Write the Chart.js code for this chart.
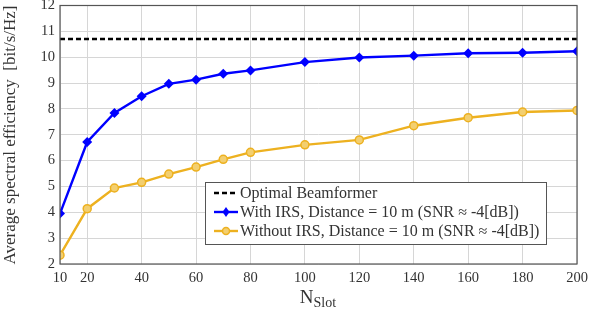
<!DOCTYPE html>
<html><head><meta charset="utf-8">
<script src="https://cdn.jsdelivr.net/npm/chart.js@4"></script>
<style>html,body{margin:0;padding:0;background:#fff}</style>
</head><body>
<canvas id="c" width="590" height="310"></canvas>
<script>
const nSlot = [10,20,30,40,50,60,70,80,100,120,140,160,180,200];
const withIRS = [3.95,6.72,7.84,8.49,8.97,9.13,9.36,9.49,9.81,9.99,10.06,10.15,10.17,10.23];
const withoutIRS = [2.34,4.14,4.94,5.16,5.48,5.75,6.05,6.32,6.61,6.8,7.35,7.66,7.88,7.94];
const optimal = 10.7;
const xTicks = [10,20,40,60,80,100,120,140,160,180,200];
const yTicks = [2,3,4,5,6,7,8,9,10,11,12];
const legendLabels = ["Optimal Beamformer","With IRS, Distance = 10 m (SNR \u2248 -4[dB])","Without IRS, Distance = 10 m (SNR \u2248 -4[dB])"];
const FONT = "'Liberation Serif', 'DejaVu Serif', serif";
const BLUE = "#0000FF", ORANGE = "#EDB120";

const custom = {
  id:'custom',
  afterDraw(chart){
    const ctx = chart.ctx, a = chart.chartArea;
    ctx.save();
    // border
    ctx.strokeStyle = "#555"; ctx.lineWidth = 1.2;
    ctx.strokeRect(a.left, a.top, a.right-a.left, a.bottom-a.top);
    // y title
    ctx.fillStyle = "#333";
    ctx.font = "17px " + FONT;
    ctx.translate(11, 135);
    ctx.rotate(-Math.PI/2);
    ctx.textAlign = "center"; ctx.textBaseline = "middle";
    ctx.fillText("Average spectral efficiency  [bit/s/Hz]", 0, 0);
    ctx.restore();
    ctx.save();
    // x title N_Slot
    ctx.fillStyle = "#333";
    ctx.textBaseline = "alphabetic"; ctx.textAlign = "left";
    ctx.font = "19px " + FONT;
    const nW = ctx.measureText("N").width;
    ctx.font = "14px " + FONT;
    const sW = ctx.measureText("Slot").width;
    const cx = 318 - (nW+sW)/2;
    ctx.font = "19px " + FONT;
    ctx.fillText("N", cx, 303);
    ctx.font = "14px " + FONT;
    ctx.fillText("Slot", cx+nW, 307);
    // legend
    const lx = 205, ly = 182, lw = 341, lh = 62;
    ctx.fillStyle = "#fff";
    ctx.fillRect(lx, ly, lw, lh);
    ctx.strokeStyle = "#555"; ctx.lineWidth = 1;
    ctx.strokeRect(lx+0.5, ly+0.5, lw, lh);
    const rows = [193, 212, 231];
    ctx.font = "16px " + FONT;
    ctx.textBaseline = "middle";
    rows.forEach((y,i)=>{
      ctx.beginPath();
      ctx.lineWidth = 2.4;
      if(i===0){ctx.strokeStyle="#000";ctx.setLineDash([5,3]);}
      else {ctx.strokeStyle = i===1?BLUE:ORANGE; ctx.setLineDash([]);}
      ctx.moveTo(214,y); ctx.lineTo(238,y); ctx.stroke();
      ctx.setLineDash([]);
      if(i===1){
        ctx.fillStyle=BLUE; ctx.beginPath();
        ctx.moveTo(226,y-5);ctx.lineTo(229.5,y);ctx.lineTo(226,y+5);ctx.lineTo(222.5,y);ctx.closePath();ctx.fill();
      } else if(i===2){
        ctx.fillStyle="#F3CF70"; ctx.strokeStyle=ORANGE; ctx.lineWidth=1.5;
        ctx.beginPath(); ctx.arc(226,y,3.5,0,Math.PI*2); ctx.fill(); ctx.stroke();
      }
      ctx.fillStyle="#333";
      ctx.fillText(legendLabels[i], 240, y+1);
    });
    ctx.restore();
  }
};

new Chart(document.getElementById('c'), {
  type:'line',
  data:{
    datasets:[
      {label:legendLabels[0], data:[{x:nSlot[0],y:optimal},{x:nSlot[nSlot.length-1],y:optimal}], borderColor:"#000", borderWidth:2.5, borderDash:[5,3], pointRadius:0},
      {label:legendLabels[1], data:nSlot.map((x,i)=>({x, y:withIRS[i]})), borderColor:BLUE, backgroundColor:BLUE, borderWidth:2.4, pointStyle:'rectRot', pointRadius:5, pointBorderWidth:0},
      {label:legendLabels[2], data:nSlot.map((x,i)=>({x, y:withoutIRS[i]})), borderColor:ORANGE, backgroundColor:"#F3CF70", borderWidth:2.4, pointStyle:'circle', pointRadius:4, pointBorderWidth:1.5}
    ]
  },
  options:{
    responsive:false, animation:false,
    layout:{padding:{top:5,right:13,left:0,bottom:0}},
    plugins:{legend:{display:false}, tooltip:{enabled:false}},
    scales:{
      x:{type:'linear', min:10, max:200,
        afterBuildTicks(s){ s.ticks = xTicks.map(v=>({value:v})); },
        afterFit(s){ s.height = 46; s.paddingLeft = 0; s.paddingRight = 0; },
        grid:{color:"#d6d6d6", lineWidth:1, drawTicks:false},
        border:{display:false},
        ticks:{color:"#333", font:{family:FONT, size:14.5}, padding:5, maxRotation:0, autoSkip:false}
      },
      y:{min:2, max:12,
        afterBuildTicks(s){ s.ticks = yTicks.map(v=>({value:v})); },
        afterFit(s){ s.width = 60; s.paddingTop = 0; s.paddingBottom = 0; },
        grid:{color:"#d6d6d6", lineWidth:1, drawTicks:false},
        border:{display:false},
        ticks:{color:"#333", font:{family:FONT, size:14.5}, padding:5}
      }
    }
  },
  plugins:[custom]
});
</script>
</body></html>
